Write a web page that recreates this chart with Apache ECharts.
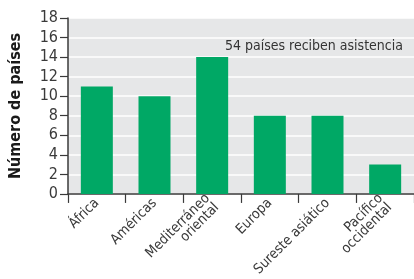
<!DOCTYPE html>
<html>
<head>
<meta charset="utf-8">
<script src="https://cdn.jsdelivr.net/npm/echarts@6/dist/echarts.min.js"></script>
<style>
  html, body { margin: 0; padding: 0; background: #fff; }
  #chart { width: 414px; height: 279px; }
</style>
</head>
<body>
<div id="chart"></div>
<script>
var regiones = ['África', 'Américas', 'Mediterráneo\noriental', 'Europa', 'Sureste asiático', 'Pacífico\noccidental'];
var paises = [11, 10, 14, 8, 8, 3];
var nota = '54 países reciben asistencia';

var fuente = '"Liberation Sans Narrow", "DejaVu Sans Condensed", sans-serif';

var chart = echarts.init(document.getElementById('chart'), null, { renderer: 'canvas' });

var option = {
    animation: false,
    grid: {
        left: 67,
        right: 0,
        top: 18,
        bottom: 84,
        show: true,
        backgroundColor: '#e6e7e8',
        borderWidth: 0
    },
    xAxis: {
        type: 'category',
        data: regiones,
        axisLine: { lineStyle: { color: '#3a3a3a', width: 1.5 } },
        axisTick: { show: true, length: 9, lineStyle: { color: '#3a3a3a', width: 1.2 } },
        axisLabel: {
            rotate: 45,
            interval: 0,
            margin: 7,
            color: '#3a3a3a',
            fontFamily: fuente,
            fontSize: 14,
            lineHeight: 13,
            align: 'right',
            padding: [0, 0, 0, 0]
        }
    },
    yAxis: {
        type: 'value',
        min: 0,
        max: 18,
        interval: 2,
        name: 'Número de países',
        nameLocation: 'middle',
        nameGap: 44,
        nameRotate: 90,
        nameTextStyle: {
            fontFamily: fuente,
            fontWeight: 'bold',
            fontSize: 16,
            color: '#1a1a1a'
        },
        axisLine: { show: true, lineStyle: { color: '#3a3a3a', width: 1.5 } },
        axisTick: { show: true, length: 8, lineStyle: { color: '#3a3a3a', width: 1.2 } },
        axisLabel: {
            color: '#3a3a3a',
            fontFamily: fuente,
            fontSize: 16,
            margin: 10
        },
        splitLine: { show: true, lineStyle: { color: '#ffffff', width: 1.5 } }
    },
    series: [{
        type: 'bar',
        data: paises,
        barWidth: 32,
        itemStyle: { color: '#00a865' }
    }],
    graphic: [{
        type: 'text',
        right: 11,
        top: 39,
        style: {
            text: nota,
            fontFamily: fuente,
            fontSize: 14,
            fill: '#333'
        }
    }]
};

chart.setOption(option);
</script>
</body>
</html>
